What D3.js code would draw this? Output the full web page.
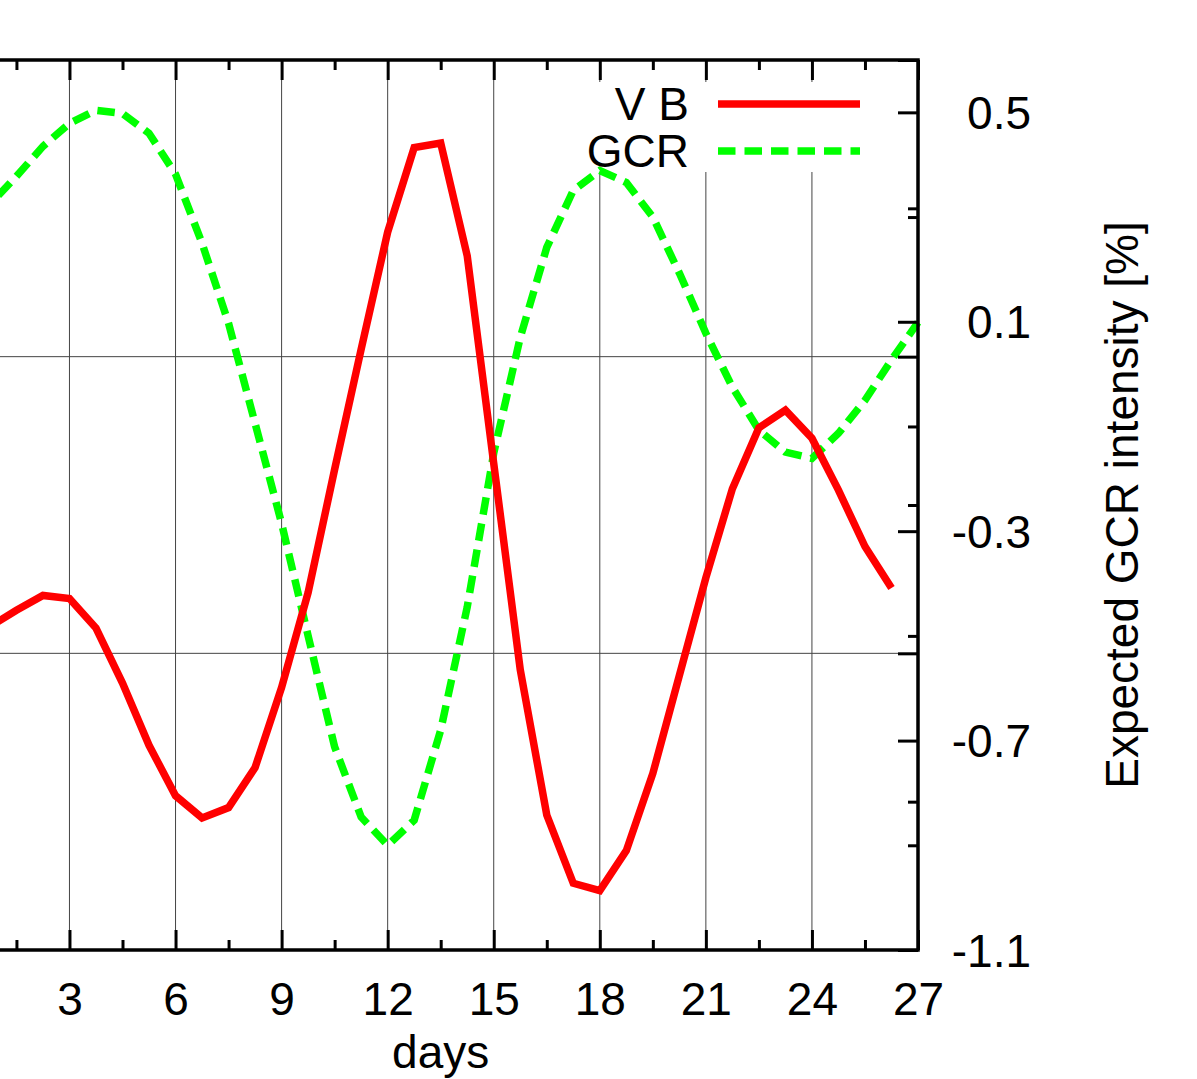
<!DOCTYPE html>
<html><head><meta charset="utf-8">
<script src="https://cdn.jsdelivr.net/npm/d3@7"></script>
<style>
body{margin:0;background:#fff}
svg{display:block}
</style>
</head><body>
<script>
// ---- data ----
const vbDays = [0,0.75,1.5,2.25,3,3.75,4.5,5.25,6,6.75,7.5,8.25,9,9.75,10.5,11.25,12,12.75,13.5,14.25,15,15.75,16.5,17.25,18,18.75,19.5,20.25,21,21.75,22.5,23.25,24,24.75,25.5,26.25];
const vbValues = [-0.94,-0.82,-0.71,-0.61,-0.63,-0.83,-1.20,-1.62,-1.96,-2.11,-2.04,-1.77,-1.23,-0.59,0.24,1.05,1.84,2.41,2.44,1.68,0.28,-1.11,-2.09,-2.55,-2.60,-2.33,-1.81,-1.15,-0.49,0.11,0.52,0.64,0.45,0.10,-0.28,-0.56];
const gcrDays = [0,0.75,1.5,2.25,3,3.75,4.5,5.25,6,6.75,7.5,8.25,9,9.75,10.5,11.25,12,12.75,13.5,14.25,15,15.75,16.5,17.25,18,18.75,19.5,20.25,21,21.75,22.5,23.25,24,24.75,25.5,26.25,27];
const gcrValues = [0.265,0.324,0.378,0.435,0.479,0.504,0.498,0.460,0.382,0.250,0.097,-0.094,-0.285,-0.500,-0.712,-0.846,-0.900,-0.852,-0.680,-0.445,-0.151,0.070,0.242,0.351,0.389,0.366,0.300,0.193,0.078,-0.025,-0.107,-0.149,-0.161,-0.113,-0.050,0.027,0.099];
const seriesNames = ["V B","GCR"];
const xTicks = [0,3,6,9,12,15,18,21,24,27];
const xTickLabels = ["","3","6","9","12","15","18","21","24","27"];
const xMinorTicks = [1.5,4.5,7.5,10.5,13.5,16.5,19.5,22.5,25.5];
const y2Ticks = [-1.1,-0.7,-0.3,0.1,0.5];
const y2TickLabels = ["-1.1","-0.7","-0.3","0.1","0.5"];
const y2MinorTicks = [-0.9,-0.5,-0.1,0.3];
const y1Ticks = [-3,-1,1,3];
const y1MinorTicks = [-2,0,2];
const xTitle = "days";
const y2Title = "Expected GCR intensity [%]";

// ---- layout ----
const W = 1197, H = 1079;
const L = -36.6, R = 918, T = 60, B = 950;
const FONT = "'Liberation Sans', Arial, Helvetica, sans-serif";
const FS = 46;

const x = d3.scaleLinear().domain([0,27]).range([L,R]);
const y1 = d3.scaleLinear().domain([-3,3]).range([B,T]);
const y2 = d3.scaleLinear().domain([-1.1,0.6]).range([B,T]);

const svg = d3.select("body").append("svg").attr("width",W).attr("height",H)
  .style("font-family",FONT);

// grid
const grid = svg.append("g").attr("stroke","#444").attr("stroke-width",1);
grid.selectAll("line.gx").data(xTicks.filter(d=>d>0&&d<27)).join("line")
  .attr("x1",d=>x(d)).attr("x2",d=>x(d)).attr("y1",T).attr("y2",B);
grid.selectAll("line.gy").data(y1Ticks.filter(d=>d>-3&&d<3)).join("line")
  .attr("x1",L).attr("x2",R).attr("y1",d=>y1(d)).attr("y2",d=>y1(d));

// key background (opaque)
svg.append("rect").attr("x",565).attr("y",82).attr("width",350).attr("height",90).attr("fill","#fff");

// curves
const lineVB = d3.line().x((d,i)=>x(vbDays[i])).y(d=>y1(d));
const lineGCR = d3.line().x((d,i)=>x(gcrDays[i])).y(d=>y2(d));
svg.append("path").datum(gcrValues).attr("d",lineGCR).attr("fill","none")
  .attr("stroke","#00ff00").attr("stroke-width",7.5).attr("stroke-dasharray","17.5,9");
svg.append("path").datum(vbValues).attr("d",lineVB).attr("fill","none")
  .attr("stroke","#ff0000").attr("stroke-width",7.5).attr("stroke-linejoin","miter");

// axes helper
function styleAxis(g){
  g.select(".domain").remove();
  g.selectAll(".tick line").attr("stroke","#000").attr("stroke-width",3);
  g.attr("font-family",FONT).attr("font-size",FS);
  g.selectAll("text").attr("fill","#000");
}
// bottom
svg.append("g").attr("transform",`translate(0,${B})`)
  .call(d3.axisBottom(x).tickValues(xTicks).tickSize(-20).tickPadding(32)
    .tickFormat((d,i)=>xTickLabels[i]))
  .call(styleAxis);
svg.append("g").attr("transform",`translate(0,${B})`)
  .call(d3.axisBottom(x).tickValues(xMinorTicks).tickSize(-10).tickFormat(""))
  .call(styleAxis);
// top mirror
svg.append("g").attr("transform",`translate(0,${T})`)
  .call(d3.axisTop(x).tickValues(xTicks).tickSize(-20).tickFormat(""))
  .call(styleAxis);
svg.append("g").attr("transform",`translate(0,${T})`)
  .call(d3.axisTop(x).tickValues(xMinorTicks).tickSize(-10).tickFormat(""))
  .call(styleAxis);
// right y2 axis
const ax2 = svg.append("g").attr("transform",`translate(${R},0)`)
  .call(d3.axisRight(y2).tickValues(y2Ticks).tickSize(-20).tickFormat((d,i)=>y2TickLabels[i]))
  .call(styleAxis);
ax2.selectAll("text").attr("x",113).attr("text-anchor","end").attr("dy","0.35em");
svg.append("g").attr("transform",`translate(${R},0)`)
  .call(d3.axisRight(y2).tickValues(y2MinorTicks).tickSize(-10).tickFormat(""))
  .call(styleAxis);
// y1 ticks (left, and mirrored on right)
svg.append("g").attr("transform",`translate(${L},0)`)
  .call(d3.axisLeft(y1).tickValues(y1Ticks).tickSize(-20).tickFormat(""))
  .call(styleAxis);
svg.append("g").attr("transform",`translate(${R},0)`)
  .call(d3.axisRight(y1).tickValues(y1Ticks).tickSize(-20).tickFormat(""))
  .call(styleAxis);
svg.append("g").attr("transform",`translate(${R},0)`)
  .call(d3.axisRight(y1).tickValues(y1MinorTicks).tickSize(-10).tickFormat(""))
  .call(styleAxis);

// border
svg.append("rect").attr("x",L).attr("y",T).attr("width",R-L).attr("height",B-T)
  .attr("fill","none").attr("stroke","#000").attr("stroke-width",3.5);

// titles
svg.append("text").attr("x",(L+R)/2).attr("y",1068).attr("text-anchor","middle")
  .attr("font-size",FS).text(xTitle);
svg.append("text").attr("transform",`translate(1138,${(T+B)/2}) rotate(-90)`)
  .attr("text-anchor","middle").attr("font-size",FS).text(y2Title);

// legend
const key = svg.append("g");
const keyRows = [
  {name:seriesNames[0], color:"#ff0000", dash:null, ty:120, ly:104},
  {name:seriesNames[1], color:"#00ff00", dash:"17.5,9", ty:167, ly:151}
];
keyRows.forEach(r=>{
  key.append("text").attr("x",689).attr("y",r.ty).attr("text-anchor","end")
    .attr("font-size",FS).text(r.name);
  key.append("line").attr("x1",718).attr("x2",860).attr("y1",r.ly).attr("y2",r.ly)
    .attr("stroke",r.color).attr("stroke-width",7.5).attr("stroke-dasharray",r.dash);
});
</script>
</body></html>
